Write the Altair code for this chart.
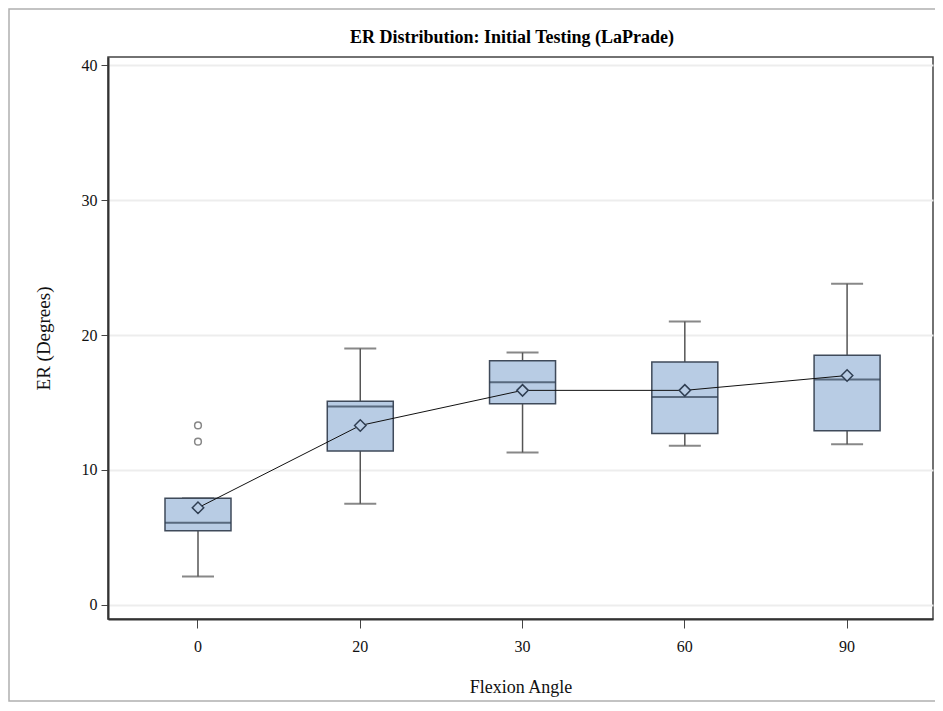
import altair as alt
import pandas as pd

angles = ["0", "20", "30", "60", "90"]
whisk_low = [2.1, 7.5, 11.3, 11.8, 11.9]
q1 = [5.5, 11.4, 14.9, 12.7, 12.9]
median = [6.1, 14.7, 16.5, 15.4, 16.7]
q3 = [7.9, 15.1, 18.1, 18.0, 18.5]
whisk_high = [7.9, 19.0, 18.7, 21.0, 23.8]
means = [7.2, 13.3, 15.9, 15.9, 17.0]
outlier_angles = ["0", "0"]
outlier_values = [13.3, 12.1]
title_text = "ER Distribution: Initial Testing (LaPrade)"

df = pd.DataFrame({"angle": angles, "low": whisk_low, "q1": q1, "median": median,
                   "q3": q3, "high": whisk_high, "mean": means})
out_df = pd.DataFrame({"angle": outlier_angles, "value": outlier_values})

FONT = "Liberation Serif, Times New Roman, serif"
xenc = alt.X("angle:N", sort=angles, title="Flexion Angle",
             scale=alt.Scale(paddingInner=0, paddingOuter=0.042, align=0.65))
yscale = alt.Scale(domain=[-1.04, 40.6], nice=False, zero=False)

one = pd.DataFrame({"a": [0]})
frame = alt.Chart(one).mark_rect(
    fill=None, stroke="#b0b0b0", strokeWidth=1.5, clip=False
).encode(x=alt.value(-99), x2=alt.value(860), y=alt.value(-48), y2=alt.value(644))

title = alt.Chart(one).mark_text(
    font=FONT, fontSize=18, fontWeight="bold", color="#000000",
    align="center", baseline="alphabetic", clip=False
).encode(x=alt.value(404), y=alt.value(-14), text=alt.value(title_text))

whisk = alt.Chart(df).mark_rule(color="#555555", strokeWidth=1.5).encode(
    x=xenc,
    y=alt.Y("low:Q", scale=yscale, title="ER (Degrees)",
            axis=alt.Axis(values=[0, 10, 20, 30, 40])),
    y2="high:Q",
)
caps_low = alt.Chart(df).mark_tick(color="#555555", size=32, thickness=2).encode(
    x=xenc, y=alt.Y("low:Q", scale=yscale))
caps_high = alt.Chart(df).mark_tick(color="#555555", size=32, thickness=2).encode(
    x=xenc, y=alt.Y("high:Q", scale=yscale))
box = alt.Chart(df).mark_bar(size=66, fill="#b8cce4", stroke="#3f4a5a", strokeWidth=1.5).encode(
    x=xenc, y=alt.Y("q1:Q", scale=yscale), y2="q3:Q")
med = alt.Chart(df).mark_tick(color="#2f3e52", size=66, thickness=2).encode(
    x=xenc, y=alt.Y("median:Q", scale=yscale))
line = alt.Chart(df).mark_line(color="#111111", strokeWidth=1).encode(
    x=xenc, y=alt.Y("mean:Q", scale=yscale))
pts = alt.Chart(df).mark_point(shape="diamond", filled=True, fill="#b8cce4",
                               stroke="#2f3e52", strokeWidth=1.5, size=130, opacity=1).encode(
    x=xenc, y=alt.Y("mean:Q", scale=yscale))
outs = alt.Chart(out_df).mark_point(shape="circle", filled=False, color="#555555",
                                    strokeWidth=1.5, size=45).encode(
    x=xenc, y=alt.Y("value:Q", scale=yscale))

chart = alt.layer(frame, title, whisk, caps_low, caps_high, box, med, line, pts, outs).properties(
    width=825, height=562,
    autosize=alt.AutoSizeParams(type="none"),
    padding={"left": 100, "top": 49, "right": 2, "bottom": 84},
).configure_view(stroke="#444444", strokeWidth=1.5).configure_axis(
    labelFont=FONT, titleFont=FONT, labelFontSize=16, titleFontSize=18,
    titleFontWeight="normal", labelColor="#111111", titleColor="#111111",
    domainColor="#333333", domainWidth=2, tickColor="#444444", tickSize=7,
    gridColor="#ededed", gridWidth=2,
).configure_axisX(labelAngle=0, grid=False, labelPadding=10, titlePadding=24, tickSize=9
).configure_axisY(labelPadding=4, titlePadding=28, titleFontSize=19)

chart.save("out.html", embed_options={"renderer": "svg", "actions": False})
